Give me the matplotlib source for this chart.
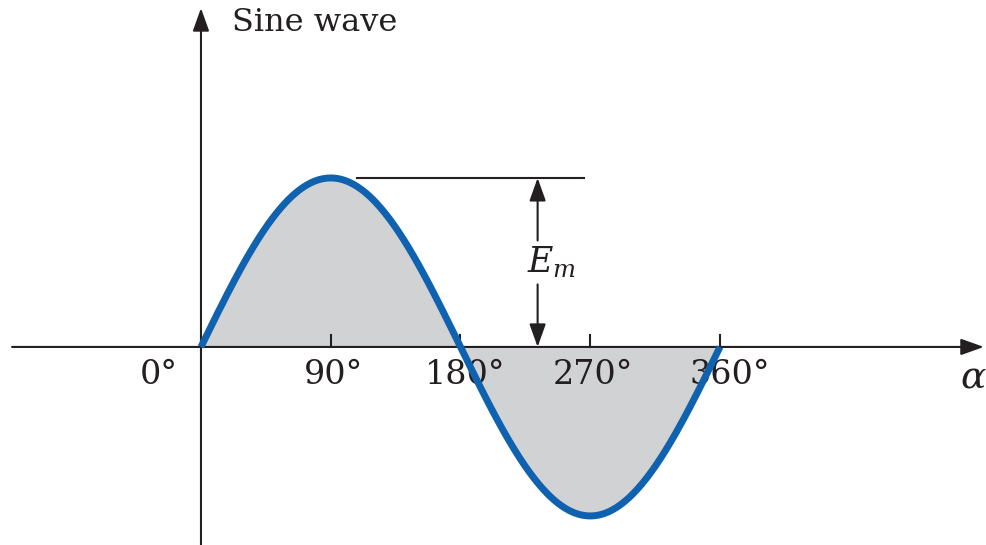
# sine wave over one cycle, with peak value E_m marked
import numpy as np
from matplotlib import pyplot as plt

plt.rcParams['font.family'] = 'DejaVu Serif'
plt.rcParams['mathtext.fontset'] = 'dejavuserif'

# angles in degrees, amplitude in units of E_m
tick_angles = [90, 180, 270, 360]
label_angles = [-29, 92, 183, 272, 367]
label_texts = ['0°', '90°', '180°', '270°', '360°']
E_m = 1.0
em_angle = 233.5          # where the E_m dimension arrow sits
em_line = [108, 266]      # extent of the peak reference line

ink = '#231f20'
blue = '#0f62b0'
fill = '#d1d2d4'

fig = plt.figure(figsize=(9.87, 5.45), dpi=100)
ax = fig.add_axes([0, 0, 1, 1])
ax.set_xlim(-139.4, 545.2)
ax.set_ylim(-1.172, 2.053)
ax.axis('off')

alpha = np.linspace(0, 360, 721)
e = E_m * np.sin(np.radians(alpha))
ax.fill_between(alpha, e, 0, color=fill, lw=0, zorder=1)
ax.plot(alpha, e, color=blue, lw=5, solid_capstyle='butt', zorder=4)

head = '-|>,head_length=1.4,head_width=0.5'
arr = dict(arrowstyle=head, color=ink, lw=1.5, shrinkA=0, shrinkB=0, mutation_scale=10)

# axes with arrow heads
ax.annotate('', xy=(543, 0), xytext=(-131, 0), arrowprops=arr, zorder=3)
ax.annotate('', xy=(0, 2.005), xytext=(0, -1.3), arrowprops=arr, zorder=3)

for a in tick_angles:
    ax.plot([a, a], [0, 0.072], color=ink, lw=1.5, zorder=3)

for a, t in zip(label_angles, label_texts):
    ax.text(a, -0.165, t, ha='center', va='center', fontsize=24, color=ink)

ax.text(526.5, -0.18, r'$\alpha$', ha='left', va='center', fontsize=27, color=ink)
ax.text(21.5, 1.92, 'Sine wave', ha='left', va='center', fontsize=23, color=ink)

# E_m dimension
ax.plot(em_line, [E_m, E_m], color=ink, lw=1.5, zorder=3)
ax.annotate('', xy=(em_angle, E_m), xytext=(em_angle, 0.63), arrowprops=arr, zorder=3)
ax.annotate('', xy=(em_angle, 0), xytext=(em_angle, 0.37), arrowprops=arr, zorder=3)
ax.text(em_angle + 10, 0.5, r'$E_m$', ha='center', va='center', fontsize=25, color=ink)

plt.savefig('out.png', dpi=100)
